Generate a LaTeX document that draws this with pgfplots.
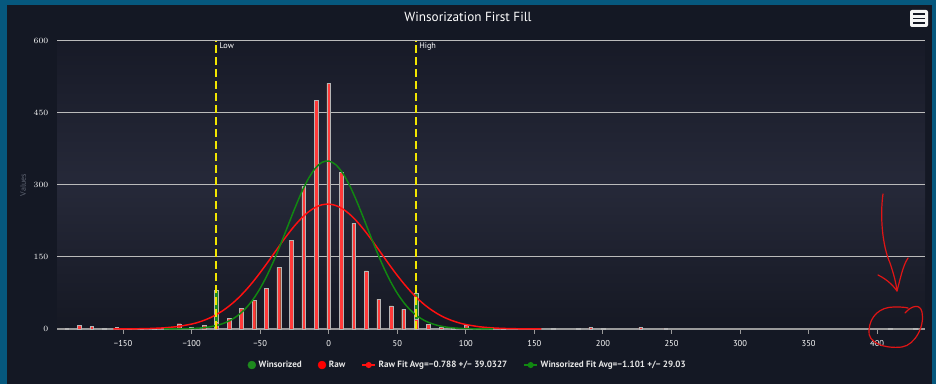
\documentclass[border=0pt]{standalone}
\usepackage{pgfplots}
\pgfplotsset{compat=1.18}
\usepackage{fontspec}
\setmainfont{PT Sans}
\definecolor{outerbg}{HTML}{141824}
\definecolor{frameblue}{HTML}{06587E}
\definecolor{plottop}{HTML}{171A27}
\definecolor{plotmid}{HTML}{262939}
\definecolor{plotbot}{HTML}{151823}
\definecolor{barred}{HTML}{FF3A3A}
\definecolor{barborder}{HTML}{B5B5B5}
\definecolor{wingreen}{HTML}{1E8A1E}
\definecolor{fitred}{HTML}{FF1010}
\definecolor{fitgreen}{HTML}{118811}
\definecolor{gridc}{HTML}{BBBBBB}
\definecolor{axisc}{HTML}{9A9A9A}
\definecolor{ylow}{HTML}{F2E600}
\definecolor{labelgray}{HTML}{5E6472}
\definecolor{legtext}{HTML}{E6E6E6}
\definecolor{scrib}{HTML}{E01515}
\begin{document}
\begin{tikzpicture}
\path[use as bounding box] (0pt,0pt) rectangle (702pt,288pt);
\begin{scope}[x=0.75pt,y=-0.75pt,yshift=288pt]
\fill[frameblue] (0,0) rectangle (936,384);
\fill[outerbg] (7,5) rectangle (932,384);
\end{scope}
\begin{axis}[
  at={(42.75pt,41.25pt)}, anchor=south west,
  scale only axis, width=651pt, height=216.2pt,
  xmin=-198.2, xmax=434.9, ymin=0, ymax=600,
  axis background/.style={top color=plottop, bottom color=plotbot, middle color=plotmid},
  axis lines*=left,
  x axis line style={axisc, line width=1pt},
  y axis line style={draw=none},
  xtick={-150,-100,-50,0,50,100,150,200,250,300,350,400},
  xticklabels={−150,−100,−50,0,50,100,150,200,250,300,350,400},
  ytick={0,150,300,450,600},
  xtick align=outside,
  major tick length=3.75pt,
  xtick style={axisc, line width=0.75pt},
  ytick style={draw=none},
  ymajorgrids,
  grid style={gridc, line width=0.8pt},
  ticklabel style={white, font=\fontsize{6.4}{7}\selectfont},
  yticklabel style={anchor=east, xshift=-3pt},
  xticklabel style={yshift=-1pt},
  clip=false,
  legend style={at={(0.4735,-0.125)}, anchor=center, draw=none, fill=none,
    text=legtext, font=\bfseries\fontsize{6.8}{8}\selectfont,
    /tikz/every even column/.append style={column sep=10pt}},
  legend columns=4,
  legend cell align=left,
]
% Winsorized bars
\addplot[ybar, bar shift=0pt, bar width=2.8pt, fill=wingreen, draw=barborder, line width=0.3pt,
  legend image code/.code={\fill[wingreen] (3pt,0pt) circle (3pt);}]
coordinates {
(-81.9,80) (-72.8,22) (-63.7,43) (-54.6,60) (-45.5,85) (-36.4,128) (-27.3,185)
(-18.2,297) (-9.1,476) (0,511) (9.1,326) (18.2,220) (27.3,121) (36.4,62)
(45.5,48) (54.6,41) (63.7,74)
};
\addlegendentry{Winsorized}
% Raw bars
\addplot[ybar, bar shift=0pt, bar width=2.8pt, fill=barred, draw=barborder, line width=0.3pt,
  legend image code/.code={\fill[red] (3pt,0pt) circle (3pt);}]
coordinates {
(-191.1,1) (-182,8) (-172.9,5) (-163.8,2) (-154.7,3) (-145.6,1) (-136.5,1)
(-127.4,2) (-118.3,3) (-109.2,11) (-100.1,3) (-91,8) (-81.9,15) (-72.8,22)
(-63.7,43) (-54.6,60) (-45.5,85) (-36.4,128) (-27.3,185) (-18.2,297) (-9.1,476)
(0,511) (9.1,326) (18.2,220) (27.3,121) (36.4,62) (45.5,48) (54.6,41) (63.7,20)
(72.8,10) (81.9,4) (91,1) (100.1,7) (109.2,1) (118.3,1) (127.4,1) (163.8,1)
(182,1) (191.1,4) (200.2,1) (227.5,4) (245.7,1) (409.5,1) (427.7,1)
};
\addlegendentry{Raw}
% Raw fit
\addplot[fitred, line width=1.1pt, smooth, mark=none,
  legend image code/.code={\draw[fitred, line width=1pt] (0pt,0pt)--(10pt,0pt); \fill[fitred] (5pt,0pt) circle (1.7pt);}]
coordinates {
(-157,0.09) (-150,0.17) (-140,0.45) (-130,1.09) (-120,2.45) (-110,5.19) (-100,10.3)
(-95,14.1) (-90,19.1) (-85,25.4) (-80,33.2) (-75,42.7) (-70,54.0) (-65,67.2)
(-60,82.3) (-55,99.1) (-50,117.5) (-45,136.9) (-40,157.0) (-35,177.1) (-30,196.5)
(-25,214.5) (-20,230.3) (-15,243.3) (-10,252.9) (-5,258.5) (0,259.9) (5,257.2)
(10,250.3) (15,239.6) (20,225.6) (25,209.0) (30,190.5) (35,170.8) (40,150.6)
(45,130.6) (50,111.5) (55,93.6) (60,77.3) (65,62.8) (70,50.2) (75,39.5) (80,30.5)
(85,23.2) (90,17.4) (95,12.8) (100,9.26) (110,4.63) (120,2.16) (130,0.95)
(140,0.39) (150,0.15) (155,0.09)
};
\addlegendentry{Raw Fit Avg=−0.788 +/− 39.0327}
% Winsorized fit
\addplot[fitgreen, line width=1.1pt, smooth, mark=none,
  legend image code/.code={\draw[fitgreen, line width=1pt] (0pt,0pt)--(10pt,0pt); \fill[fitgreen] (5pt,0pt) circle (1.7pt);}]
coordinates {
(-120,0.08) (-110,0.31) (-100,1.06) (-95,1.87) (-90,3.22) (-85,5.38) (-80,8.71)
(-75,13.7) (-70,20.9) (-65,31.1) (-60,44.7) (-55,62.4) (-50,84.7) (-45,111.6)
(-40,142.6) (-35,177.0) (-30,213.3) (-25,249.4) (-20,283.2) (-15,312.1)
(-10,333.9) (-5,346.8) (0,349.7) (5,342.3) (10,325.3) (15,300.1) (20,268.7)
(25,233.6) (30,197.2) (35,161.6) (40,128.5) (45,99.2) (50,74.3) (55,54.1)
(60,38.2) (65,26.2) (70,17.4) (75,11.3) (80,7.07) (85,4.31) (90,2.55)
(95,1.46) (100,0.81) (110,0.23) (120,0.06)
};
\addlegendentry{Winsorized Fit Avg=−1.101 +/− 29.03}
% Low / High plot lines
\addplot[ylow, line width=1.5pt, dash pattern=on 6pt off 3pt, forget plot] coordinates {(-81.9,0) (-81.9,600)};
\addplot[ylow, line width=1.5pt, dash pattern=on 6pt off 3pt, forget plot] coordinates {(63.7,0) (63.7,600)};
\node[anchor=north west, white, font=\fontsize{6.2}{7}\selectfont, inner sep=0pt] at (axis cs:-81.9,600) [xshift=2.2pt, yshift=-1.5pt] {Low};
\node[anchor=north west, white, font=\fontsize{6.2}{7}\selectfont, inner sep=0pt] at (axis cs:63.7,600) [xshift=2.2pt, yshift=-1.5pt] {High};
\end{axis}
\begin{scope}[x=0.75pt,y=-0.75pt,yshift=288pt]
\node[white, font=\fontsize{9.9}{11}\selectfont] at (468,17) {Winsorization First Fill};
\node[rotate=90, labelgray, font=\fontsize{6}{7}\selectfont] at (23,185) {Values};
\fill[white!92!gray, rounded corners=1.5pt] (910,10) rectangle (928,27);
\draw[outerbg, line width=1.3pt] (913,14)--(925,14) (913,18.5)--(925,18.5) (913,23)--(925,23);
\draw[scrib, line width=0.9pt, line cap=round, line join=round]
  (883,194) .. controls (880,215) and (882,245) .. (890,263) .. controls (894,275) and (896,283) .. (897,291);
\draw[scrib, line width=0.9pt, line cap=round, line join=round]
  (878,275) .. controls (886,279) and (892,284) .. (897,291) .. controls (900,280) and (903,265) .. (908,258);
\draw[scrib, line width=0.9pt, line cap=round, line join=round]
  (905,313) .. controls (911,306) and (920,303) .. (922,312) .. controls (925,326) and (915,345) .. (902,347)
  .. controls (885,349) and (867,343) .. (869,330) .. controls (870,316) and (880,307) .. (894,307)
  .. controls (899,307) and (904,307) .. (908,308);
\end{scope}
\end{tikzpicture}
\end{document}
